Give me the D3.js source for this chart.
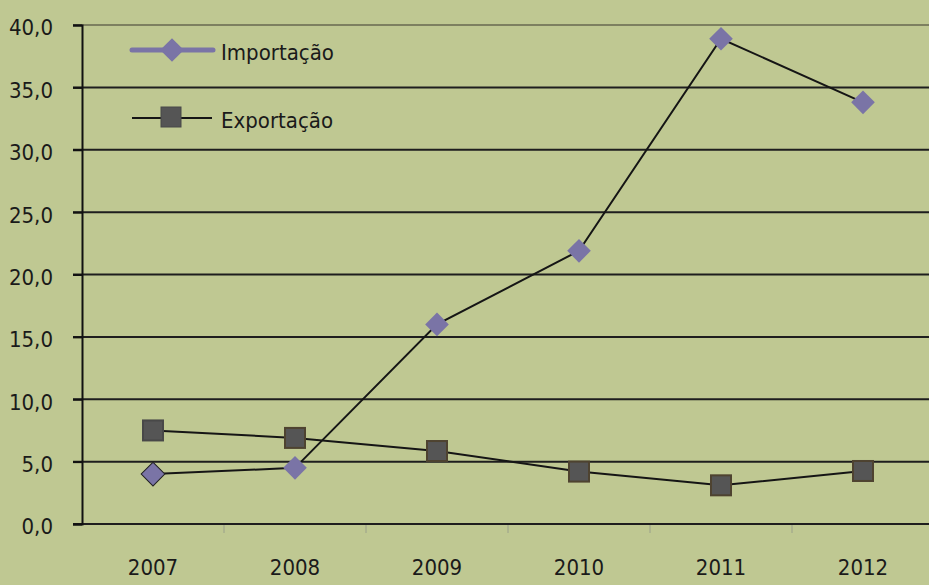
<!DOCTYPE html>
<html>
<head>
<meta charset="utf-8">
<script src="https://cdn.jsdelivr.net/npm/d3@7"></script>
<style>
  body { margin: 0; background: #bfc892; }
  text { font-family: "DejaVu Sans Condensed", "DejaVu Sans", sans-serif; font-stretch: condensed; fill: #1a1a1a; }
</style>
</head>
<body>
<div id="chart"></div>
<script>
var svgWidth = 929;
var svgHeight = 585;

var margin = { top: 25, right: -5, bottom: 61, left: 82 };

var width = svgWidth - margin.left - margin.right;
var height = svgHeight - margin.top - margin.bottom;

// data
var years = ["2007", "2008", "2009", "2010", "2011", "2012"];
var importacao = [4.0, 4.5, 16.0, 21.9, 38.9, 33.8];
var exportacao = [7.5, 6.9, 5.85, 4.2, 3.1, 4.25];
var yTicks = [0, 5, 10, 15, 20, 25, 30, 35, 40];

var svg = d3.select("#chart")
  .append("svg")
  .attr("width", svgWidth)
  .attr("height", svgHeight);

svg.append("rect")
  .attr("width", svgWidth)
  .attr("height", svgHeight)
  .attr("fill", "#bfc892");

var chartGroup = svg.append("g")
  .attr("transform", `translate(${margin.left}, ${margin.top})`);

var xScale = d3.scaleBand()
  .domain(years)
  .range([0, width]);

var yScale = d3.scaleLinear()
  .domain([0, 40])
  .range([height, 0]);

// gridlines
chartGroup.selectAll(".grid")
  .data(yTicks)
  .enter()
  .append("line")
  .attr("x1", -9)
  .attr("x2", width)
  .attr("y1", d => yScale(d))
  .attr("y2", d => yScale(d))
  .attr("stroke", d => d === 40 ? "#7d8060" : "#1e1e1e")
  .attr("stroke-width", 2);

// y axis
var leftAxis = d3.axisLeft(yScale)
  .tickValues(yTicks)
  .tickSize(9)
  .tickPadding(20)
  .tickFormat(d => d3.format(".1f")(d).replace(".", ","));

var yAxisG = chartGroup.append("g").call(leftAxis);
yAxisG.select(".domain").attr("stroke", "#111").attr("stroke-width", 2);
yAxisG.selectAll(".tick line").attr("stroke", "#111").attr("stroke-width", 2);
yAxisG.selectAll("text")
  .attr("font-size", 22)
  .attr("font-family", null)
  .attr("dy", "0.45em")
  .attr("fill", "#1a1a1a");

// x axis
var bottomAxis = d3.axisBottom(xScale).tickSize(0).tickPadding(35);
var xAxisG = chartGroup.append("g")
  .attr("transform", `translate(0, ${height})`)
  .call(bottomAxis);
xAxisG.select(".domain").remove();
xAxisG.selectAll("text")
  .attr("font-size", 22)
  .attr("font-family", null)
  .attr("fill", "#1a1a1a");

// band boundary ticks
chartGroup.selectAll(".btick")
  .data(years.slice(1))
  .enter()
  .append("line")
  .attr("x1", d => xScale(d))
  .attr("x2", d => xScale(d))
  .attr("y1", height + 1)
  .attr("y2", height + 9)
  .attr("stroke", "#9aa08a")
  .attr("stroke-width", 1);

var xc = d => xScale(d) + xScale.bandwidth() / 2;

var line = d3.line()
  .x((d, i) => xc(years[i]))
  .y(d => yScale(d));

// Importacao line
chartGroup.append("path")
  .datum(importacao)
  .attr("d", line)
  .attr("fill", "none")
  .attr("stroke", "#151515")
  .attr("stroke-width", 2);

// Exportacao line
chartGroup.append("path")
  .datum(exportacao)
  .attr("d", line)
  .attr("fill", "none")
  .attr("stroke", "#151515")
  .attr("stroke-width", 2);

var diamond = d3.symbol().type(d3.symbolSquare).size(280);

chartGroup.selectAll(".imp")
  .data(importacao)
  .enter()
  .append("path")
  .attr("d", diamond)
  .attr("transform", (d, i) => `translate(${xc(years[i])}, ${yScale(d)}) rotate(45)`)
  .attr("fill", "#7a74a6")
  .attr("stroke", (d, i) => i === 0 ? "#222" : "none")
  .attr("stroke-width", 1);

chartGroup.selectAll(".exp")
  .data(exportacao)
  .enter()
  .append("rect")
  .attr("x", (d, i) => xc(years[i]) - 10)
  .attr("y", d => yScale(d) - 10)
  .attr("width", 20)
  .attr("height", 20)
  .attr("fill", "#555555")
  .attr("stroke", (d, i) => i === 0 ? "#484848" : "#4e4330")
  .attr("stroke-width", 2);

// legend
var legend = svg.append("g");

legend.append("line")
  .attr("x1", 132).attr("x2", 213)
  .attr("y1", 50).attr("y2", 50)
  .attr("stroke", "#7a74a6")
  .attr("stroke-width", 5)
  .attr("stroke-linecap", "round");
legend.append("path")
  .attr("d", diamond)
  .attr("transform", "translate(172, 50) rotate(45)")
  .attr("fill", "#7a74a6");
legend.append("text")
  .attr("x", 221).attr("y", 60)
  .attr("font-size", 22)
  .text("Importação");

legend.append("line")
  .attr("x1", 132).attr("x2", 212)
  .attr("y1", 118).attr("y2", 118)
  .attr("stroke", "#151515")
  .attr("stroke-width", 2);
legend.append("rect")
  .attr("x", 161).attr("y", 107)
  .attr("width", 20).attr("height", 20)
  .attr("fill", "#555555")
  .attr("stroke", "#484848")
  .attr("stroke-width", 1);
legend.append("text")
  .attr("x", 221).attr("y", 128)
  .attr("font-size", 22)
  .text("Exportação");
</script>
</body>
</html>
